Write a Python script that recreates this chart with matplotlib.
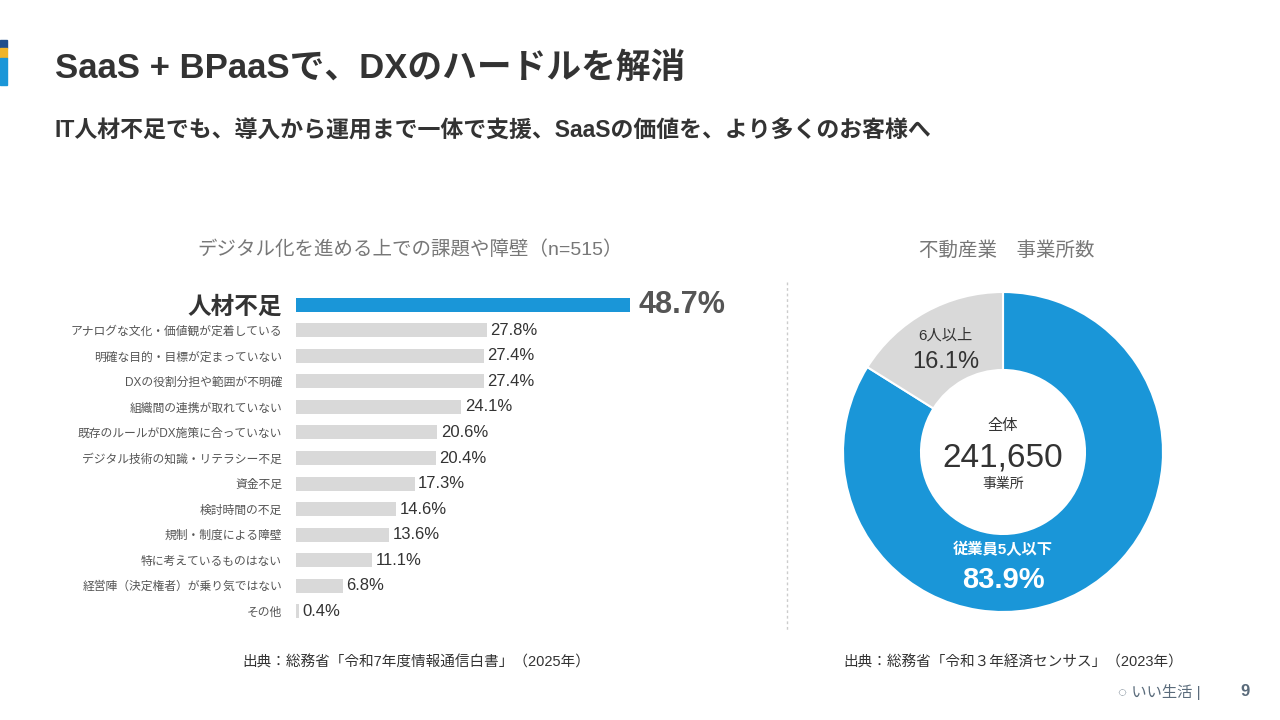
import matplotlib
matplotlib.use("Agg")
import matplotlib.pyplot as plt
from matplotlib.patches import Rectangle

plt.rcParams['font.family'] = ['Liberation Sans', 'Noto Sans CJK JP', 'DejaVu Sans']

categories = ["人材不足", "アナログな文化・価値観が定着している", "明確な目的・目標が定まっていない",
              "DXの役割分担や範囲が不明確", "組織間の連携が取れていない", "既存のルールがDX施策に合っていない",
              "デジタル技術の知識・リテラシー不足", "資金不足", "検討時間の不足", "規制・制度による障壁",
              "特に考えているものはない", "経営陣（決定権者）が乗り気ではない", "その他"]
values = [48.7, 27.8, 27.4, 27.4, 24.1, 20.6, 20.4, 17.3, 14.6, 13.6, 11.1, 6.8, 0.4]
donut_labels = ["従業員5人以下", "6人以上"]
donut_values = [83.9, 16.1]
total_label = "241,650"

BLUE = "#1a96d8"
GRAY = "#d9d9d9"
TXT = "#333333"
W, H = 1280, 720
fig = plt.figure(figsize=(12.8, 7.2), dpi=100)

def fx(x): return x / W
def fy(y): return 1 - y / H

for y0, y1, c in [(40, 48, "#1f4e8c"), (48, 58, "#f0b429"), (58, 85, BLUE)]:
    fig.patches.append(Rectangle((0, fy(y1)), fx(7), (y1 - y0) / H, transform=fig.transFigure, color=c))

fig.text(fx(55), fy(68), "SaaS + BPaaSで、DXのハードルを解消", fontsize=25, fontweight="bold", color=TXT, va="center")
fig.text(fx(55), fy(131), "IT人材不足でも、導入から運用まで一体で支援、SaaSの価値を、より多くのお客様へ",
         fontsize=16.5, fontweight="bold", color=TXT, va="center")

fig.text(fx(410), fy(250), "デジタル化を進める上での課題や障壁（n=515）", fontsize=14, color="#777777", ha="center", va="center")
fig.text(fx(1007), fy(250), "不動産業　事業所数", fontsize=14, color="#777777", ha="center", va="center")

ax = fig.add_axes([fx(296), fy(624), 343 / W, 332 / H])
ypos = list(range(len(values)))
colors = [BLUE] + [GRAY] * (len(values) - 1)
ax.barh(ypos, values, height=0.55, color=colors)
ax.set_xlim(0, 50)
ax.set_ylim(len(values) - 0.5, -0.5)
ax.set_xticks([])
ax.set_yticks(ypos)
ax.set_yticklabels(categories)
ax.tick_params(axis="y", length=0, pad=10)
for i, lab in enumerate(ax.get_yticklabels()):
    if i == 0:
        lab.set_fontsize(17); lab.set_fontweight("bold"); lab.set_color(TXT)
    else:
        lab.set_fontsize(8.5); lab.set_color("#555555")
for s in ax.spines.values():
    s.set_visible(False)
for i, v in enumerate(values):
    if i == 0:
        ax.text(v + 1.2, i, f"{v}%", fontsize=22, fontweight="bold", color="#555555", va="center")
    else:
        ax.text(v + 0.5, i, f"{v}%", fontsize=12, color=TXT, va="center")

fig.add_artist(plt.Line2D([fx(787), fx(787)], [fy(282), fy(630)], transform=fig.transFigure,
                          color="#cccccc", linestyle=(0, (2, 2)), linewidth=1))

R = 160
axd = fig.add_axes([fx(1003 - R), fy(452 + R), 2 * R / W, 2 * R / H])
axd.pie(donut_values, colors=[BLUE, GRAY], startangle=90, counterclock=False,
        wedgeprops=dict(width=(R - 82) / R, edgecolor="white", linewidth=1.5))
axd.set_xlim(-1, 1); axd.set_ylim(-1, 1)
axd.set_aspect("equal")
axd.text(0, 0.16, "全体", ha="center", va="center", fontsize=11, color=TXT)
axd.text(0, -0.04, total_label, ha="center", va="center", fontsize=24, color=TXT)
axd.text(0, -0.2, "事業所", ha="center", va="center", fontsize=10, color=TXT)
axd.text(0.0, -0.61, donut_labels[0], ha="center", va="center", fontsize=11, fontweight="bold", color="white")
axd.text(0.0, -0.8, f"{donut_values[0]}%", ha="center", va="center", fontsize=21, fontweight="bold", color="white")
axd.text(-0.36, 0.73, donut_labels[1], ha="center", va="center", fontsize=11, color=TXT)
axd.text(-0.36, 0.56, f"{donut_values[1]}%", ha="center", va="center", fontsize=17, color=TXT)

fig.text(fx(416), fy(662), "出典：総務省「令和7年度情報通信白書」（2025年）", fontsize=10.5, color=TXT, ha="center", va="center")
fig.text(fx(1013), fy(662), "出典：総務省「令和３年経済センサス」（2023年）", fontsize=10.5, color=TXT, ha="center", va="center")
fig.text(fx(1118), fy(692), "◌ いい生活 |", fontsize=11, color="#5a6b7b", ha="left", va="center")
fig.text(fx(1245), fy(692), "9", fontsize=12, fontweight="bold", color="#5a6b7b", ha="center", va="center")

fig.savefig("out.png", dpi=100, facecolor="white")
